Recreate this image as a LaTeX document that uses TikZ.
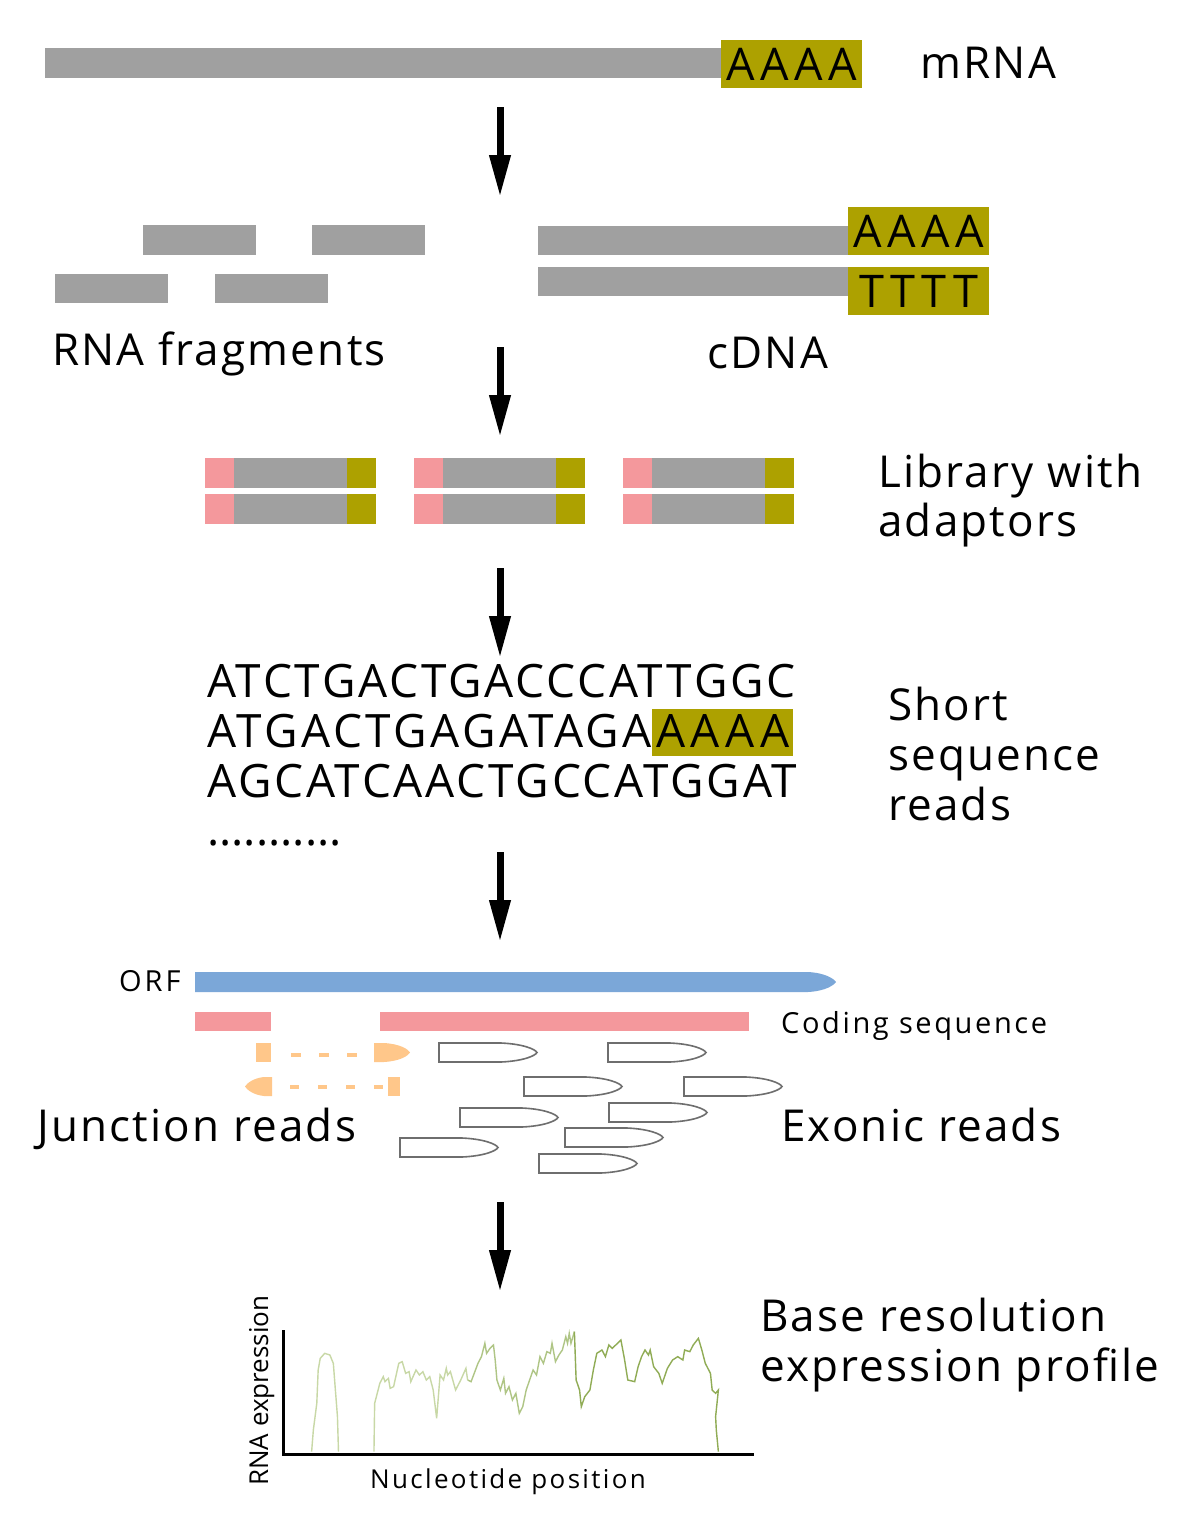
\documentclass[tikz,border=0pt]{standalone}
\usepackage{fontspec}
\setmainfont{Open Sans}
\usepackage{tikz}
\usetikzlibrary{arrows.meta}
\definecolor{fraggray}{HTML}{A0A0A0}
\definecolor{polyagold}{HTML}{ADA100}
\definecolor{adaptpink}{HTML}{F4989C}
\definecolor{orfblue}{HTML}{7BA7D8}
\definecolor{junctorange}{HTML}{FFC78A}
\definecolor{readgray}{HTML}{6E6E6E}
\definecolor{profilelight}{HTML}{C8D8A6}
\definecolor{profilemid}{HTML}{AFC585}
\definecolor{profiledark}{HTML}{90AC55}

\tikzset{
  bigtxt/.style={font=\fontsize{44}{50}\selectfont\addfontfeature{LetterSpace=5}, inner sep=0pt, anchor=base west},
  seqtxt/.style={font=\fontsize{46}{50}\selectfont\addfontfeature{LetterSpace=6}, inner sep=0pt, anchor=base west},
  smalltxt/.style={font=\fontsize{27}{32}\selectfont\addfontfeature{LetterSpace=10}, inner sep=0pt, anchor=base west},
  polybox/.style={fill=polyagold, inner sep=0pt, font=\fontsize{45}{50}\selectfont\addfontfeature{LetterSpace=12}},
  stagearrow/.style={line width=7pt, -{Triangle[length=42pt,width=20pt]}},
  exonread/.style={draw=readgray, line width=1.6pt, fill=white},
}

\begin{document}
\begin{tikzpicture}[x=1pt,y=-1pt]
  \useasboundingbox[fill=white] (0,0) rectangle (1181,1521);

  % mRNA
  \fill[fraggray] (45,48) rectangle (722,78);
  \node[polybox, minimum width=141pt, minimum height=48pt, anchor=north west]
    (mrnatail) at (721,40) {AAAA};
  \node[bigtxt] (mrnalabel) at (920,78) {mRNA};

  % Arrow positions
  \coordinate (s1) at (500,107);  \coordinate (e1) at (500,197);
  \coordinate (s2) at (500,347);  \coordinate (e2) at (500,437);
  \coordinate (s3) at (500,568);  \coordinate (e3) at (500,658);
  \coordinate (s4) at (500,852);  \coordinate (e4) at (500,942);
  \coordinate (s5) at (500,1202); \coordinate (e5) at (500,1292);
  \foreach \i in {1,...,5} {
    \draw[stagearrow] (s\i) -- (e\i);
  }

  % RNA fragments
  \fill[fraggray] (143,225) rectangle (256,255);
  \fill[fraggray] (312,225) rectangle (425,255);
  \fill[fraggray] (55,274) rectangle (168,303);
  \fill[fraggray] (215,274) rectangle (328,303);
  \node[bigtxt] (fraglabel) at (52,365) {RNA fragments};

  % cDNA
  \fill[fraggray] (538,226) rectangle (849,255);
  \fill[fraggray] (538,267) rectangle (849,296);
  \node[polybox, minimum width=141pt, minimum height=48pt, anchor=north west]
    (cdnatop) at (848,207) {AAAA};
  \node[polybox, minimum width=141pt, minimum height=48pt, anchor=north west]
    (cdnabot) at (848,267) {TTTT};
  \node[bigtxt] (cdnalabel) at (707,368) {cDNA};

  % Library with adaptors
  \foreach \x in {205,414,623} {
    \foreach \y in {458,494} {
      \fill[adaptpink] (\x,\y) rectangle ++(29,30);
      \fill[fraggray] (\x+29,\y) rectangle ++(113,30);
      \fill[polyagold] (\x+142,\y) rectangle ++(29,30);
    }
  }
  \node[bigtxt] (libla) at (878,487) {Library with};
  \node[bigtxt] (liblb) at (878,536) {adaptors};

  % Short sequence reads
  \node[seqtxt] (seqa) at (207,697) {ATCTGACTGACCCATTGGC};
  \node[seqtxt, font=\fontsize{46}{50}\selectfont\addfontfeature{LetterSpace=7.5}] (seqb) at (207,747) {ATGACTGAGATAGA};
  \node[polybox, font=\fontsize{46}{50}\selectfont\addfontfeature{LetterSpace=12}, anchor=base west,
    inner xsep=0pt, minimum width=141pt, minimum height=47pt, text depth=9pt, text height=38pt]
    (seqtail) at (seqb.base east) {AAAA};
  \node[seqtxt] (seqc) at (207,797) {AGCATCAACTGCCATGGAT};
  \node[seqtxt, font=\fontsize{46}{50}\selectfont] (seqdots) at (207,845) {...........};
  \node[bigtxt] (shorta) at (888,720) {Short};
  \node[bigtxt] (shortb) at (888,770) {sequence};
  \node[bigtxt] (shortc) at (888,820) {reads};

  % ORF and coding sequence
  \fill[orfblue] (195,972) -- (808,972) .. controls (826,973) and (834,979) .. (836,982)
    .. controls (834,985) and (826,991) .. (808,992) -- (195,992) -- cycle;
  \node[smalltxt, font=\fontsize{29}{34}\selectfont\addfontfeature{LetterSpace=10}] (orflabel) at (119,991) {ORF};
  \fill[adaptpink] (195,1012) rectangle (271,1031);
  \fill[adaptpink] (380,1012) rectangle (749,1031);
  \node[smalltxt, font=\fontsize{29}{34}\selectfont\addfontfeature{LetterSpace=9}] (cdslabel) at (781,1033) {Coding sequence};

  % Junction reads
  \fill[junctorange] (256,1043) rectangle (271,1062);
  \draw[junctorange, line width=4pt, dash pattern=on 10pt off 18pt] (291,1055) -- (372,1055);
  \fill[junctorange] (374,1043) -- (384,1043) .. controls (400,1044) and (408,1049) .. (410,1052.5)
    .. controls (408,1056) and (400,1061) .. (384,1062) -- (374,1062) -- cycle;
  \fill[junctorange] (272,1077) -- (264,1077) .. controls (254,1078) and (247,1083) .. (245,1086.5)
    .. controls (247,1090) and (254,1095) .. (264,1096) -- (272,1096) -- cycle;
  \draw[junctorange, line width=4pt, dash pattern=on 9pt off 19pt] (290,1087) -- (386,1087);
  \fill[junctorange] (388,1077) rectangle (400,1096);
  \node[bigtxt] (junclabel) at (37,1141) {Junction reads};

  % Exonic reads
  \foreach \x/\y in {439/1043, 608/1043, 524/1077, 684/1077, 460/1108,
                     609/1103, 565/1128, 400/1138, 539/1154} {
    \begin{scope}[shift={(\x,\y)}]
      \draw[exonread] (0,0) -- (62,0) .. controls (84,1) and (96,6) .. (98,9.5)
        .. controls (96,13) and (84,18) .. (62,19) -- (0,19) -- cycle;
    \end{scope}
  }
  \node[bigtxt] (exonlabel) at (781,1141) {Exonic reads};

  % Expression profile
  \draw[line width=3pt] (283,1330) |- (754,1454);
  \node[smalltxt, font=\fontsize{26}{30}\selectfont, rotate=90] (ylabel) at (268,1486) {RNA expression};
  \node[smalltxt, font=\fontsize{26}{30}\selectfont\addfontfeature{LetterSpace=9}] (xlabel) at (370,1488) {Nucleotide position};
  \node[bigtxt] (profa) at (760,1331) {Base resolution};
  \node[bigtxt] (profb) at (760,1381) {expression profile};

  \begin{scope}[shift={(230,1290)}, xscale=0.3444, yscale=0.3333]
    \draw[profilelight, line width=1.4pt] (237,485) -- (242,420) -- (252,340) -- (256,240) -- (262,205)
      -- (275,190) -- (290,195) -- (300,220) -- (306,300) -- (312,380) -- (315,485);
    \draw[profilelight, line width=1.4pt] (418,485) -- (420,340) -- (435,280) -- (445,260) -- (450,275)
      -- (460,265) -- (465,295) -- (475,290) -- (490,220) -- (500,215) -- (510,250) -- (520,245)
      -- (525,275) -- (540,240) -- (550,255) -- (560,245) -- (570,270) -- (580,260) -- (590,300)
      -- (600,385) -- (605,320) -- (610,255) -- (620,270) -- (628,235) -- (632,255) -- (640,245)
      -- (655,300) -- (670,270) -- (685,235) -- (690,270);
    \draw[profilemid, line width=1.4pt] (690,270) -- (700,275) -- (720,220) -- (730,200) -- (740,160)
      -- (745,190) -- (755,175) -- (765,165) -- (770,210) -- (775,270) -- (785,300) -- (795,265)
      -- (800,310) -- (810,290) -- (820,330) -- (830,310) -- (840,370) -- (850,350) -- (860,300)
      -- (870,270) -- (880,240) -- (890,255) -- (900,200) -- (910,220) -- (920,185) -- (930,190)
      -- (935,160) -- (945,215) -- (955,195) -- (965,180) -- (975,140) -- (980,160) -- (985,130)
      -- (990,160) -- (1000,125);
    \draw[profiledark, line width=1.4pt] (1000,125) -- (1005,270) -- (1015,300) -- (1020,350)
      -- (1030,320) -- (1045,300) -- (1055,240) -- (1065,190) -- (1080,180) -- (1090,200)
      -- (1100,165) -- (1110,175) -- (1120,165) -- (1135,150) -- (1145,205) -- (1155,270)
      -- (1175,275) -- (1185,230) -- (1195,200) -- (1205,180) -- (1215,195) -- (1220,180)
      -- (1230,230) -- (1245,250) -- (1255,280) -- (1270,235) -- (1285,210) -- (1300,200)
      -- (1315,210) -- (1320,180) -- (1335,185) -- (1345,165) -- (1360,145) -- (1370,180)
      -- (1380,220) -- (1395,250) -- (1400,300) -- (1410,310) -- (1418,300) -- (1410,380)
      -- (1412,420) -- (1418,485);
  \end{scope}
\end{tikzpicture}
\end{document}
